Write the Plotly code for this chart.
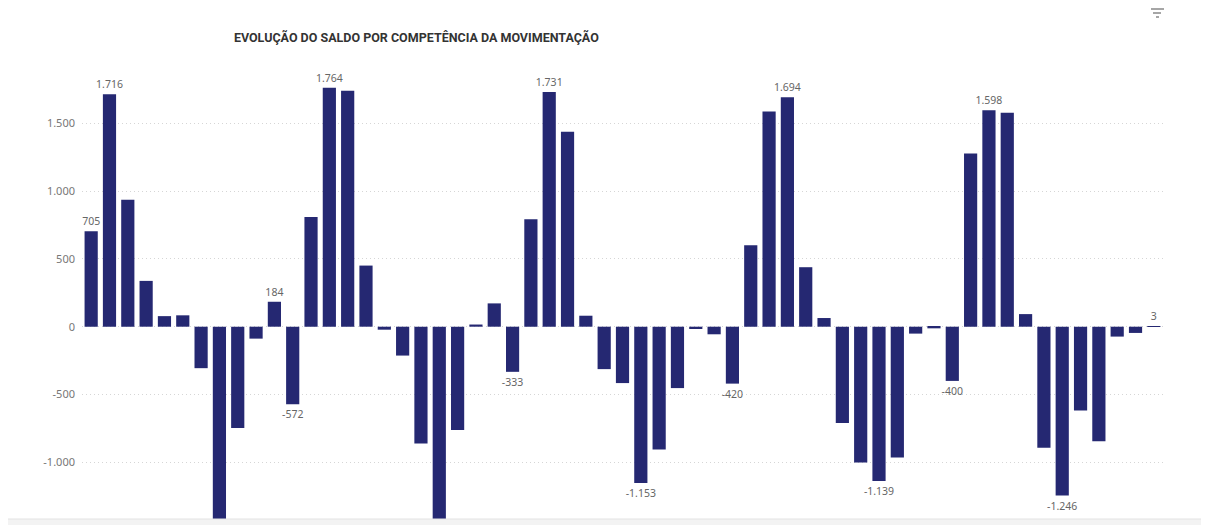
import plotly.graph_objects as go

# saldo mensal
saldo = [705, 1716, 936, 338, 78, 84, -306, -1600, -747, -88,
         184, -572, 810, 1764, 1741, 451, -22, -213, -862, -1650,
         -762, 16, 172, -333, 793, 1731, 1438, 81, -313, -416,
         -1153, -907, -453, -17, -56, -420, 601, 1588, 1694, 439,
         64, -711, -1002, -1139, -965, -51, -12, -400, 1278, 1598,
         1578, 93, -894, -1246, -618, -846, -73, -46, 3]
competencia = list(range(1, len(saldo) + 1))

# barras com rótulo visível no original
rotulados = [705, 1716, 184, -572, 1764, -333, 1731, -1153, -420,
             1694, -1139, -400, 1598, -1246, 3]

tick_vals = [-1000, -500, 0, 500, 1000, 1500]
tick_text = ["-1.000", "-500", "0", "500", "1.000", "1.500"]


def fmt(v):
    return f"{v:,}".replace(",", ".")


labels = [fmt(v) if v in rotulados else "" for v in saldo]

fig = go.Figure()
fig.add_trace(go.Bar(
    x=competencia, y=saldo,
    marker=dict(color="#252872", line=dict(width=0)),
    text=labels, textposition="outside", constraintext="none",
    textfont=dict(family="Noto Sans, Segoe UI, sans-serif", size=10.5, color="#666666"),
    cliponaxis=True,
))

# a página tem 8px de margem no body, por isso o tamanho é compensado
fig.update_layout(
    width=1201, height=517,
    margin=dict(l=74, r=46, t=52, b=6),
    paper_bgcolor="white", plot_bgcolor="white",
    bargap=0.28,
    showlegend=False,
    font=dict(family="Noto Sans, Segoe UI, sans-serif", size=11, color="#777777"),
    title=dict(text="<b>EVOLUÇÃO DO SALDO POR COMPETÊNCIA DA MOVIMENTAÇÃO</b>",
               x=0.340, xanchor="center", y=0.943, yanchor="middle",
               font=dict(family="Roboto, sans-serif", size=12.5, color="#333333")),
)
fig.update_xaxes(visible=False, range=[0.5, len(saldo) + 0.5])
fig.update_yaxes(range=[-1419, 1968], tickvals=tick_vals, ticktext=tick_text,
                 showgrid=True, gridcolor="#d6d6d6", griddash="1px,3px", gridwidth=1,
                 zeroline=False, showline=False, ticks="", ticklabelstandoff=6,
                 tickfont=dict(size=11, color="#777777"))

# faixa cinza no rodapé e ícone de filtro
fig.add_shape(type="rect", xref="paper", yref="paper", x0=-0.2, x1=1.2, y0=-0.05, y1=0,
              fillcolor="#f3f3f3", line=dict(color="#e3e3e3", width=1), layer="above")
for py, a, b in [(9, 1151, 1164), (13, 1153, 1161), (17, 1156, 1159)]:
    fig.add_shape(type="line", xref="paper", yref="paper",
                  x0=(a - 82) / 1081, x1=(b - 82) / 1081,
                  y0=(519 - py) / 459, y1=(519 - py) / 459,
                  line=dict(color="#888888", width=1.5))

fig.write_html("out.html")
